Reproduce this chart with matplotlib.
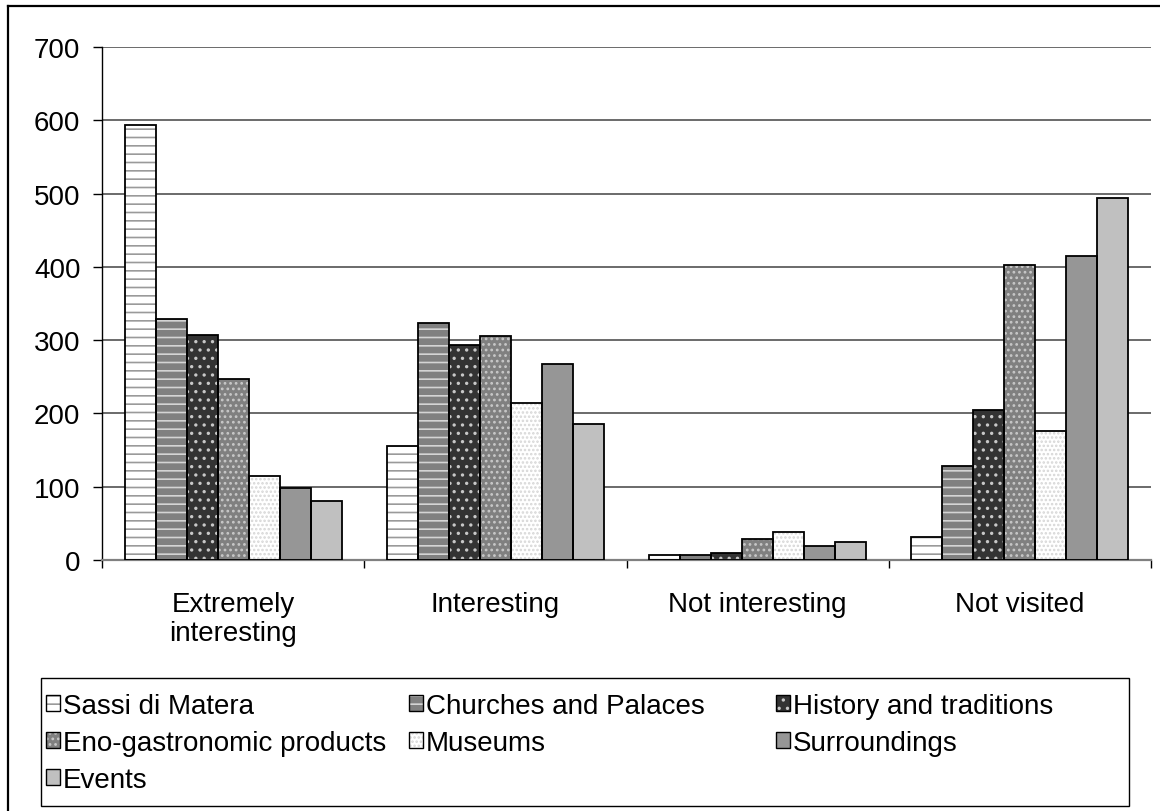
import numpy as np
import matplotlib.pyplot as plt
from matplotlib.patches import Patch, Rectangle
from matplotlib.lines import Line2D
from matplotlib.legend_handler import HandlerTuple

plt.rcParams['font.family'] = ['Liberation Sans', 'DejaVu Sans']
plt.rcParams['hatch.linewidth'] = 1.2

categories = ["Extremely\ninteresting", "Interesting", "Not interesting", "Not visited"]
series_names = ["Sassi di Matera", "Churches and Palaces", "History and traditions",
                "Eno-gastronomic products", "Museums", "Surroundings", "Events"]

sassi = [593, 156, 7, 32]
churches = [329, 324, 7, 128]
history = [307, 293, 10, 205]
eno = [247, 305, 28, 403]
museums = [115, 214, 38, 176]
surroundings = [98, 267, 19, 415]
events = [81, 185, 24, 494]
values = [sassi, churches, history, eno, museums, surroundings, events]

# face colour, hatch colour, hatch
styles = [("white", "#9a9a9a", "--"),
          ("#808080", "#d4d4d4", "--"),
          ("#333333", "#c8c8c8", ".."),
          ("#808080", "#c8c8c8", "..."),
          ("white", "#d6d6d6", "...."),
          ("#969696", "#969696", ""),
          ("#c0c0c0", "#c0c0c0", "")]

fig = plt.figure(figsize=(11.6, 8.12), dpi=100)
ax = fig.add_axes([102/1160, 1-561/812, (1151-102)/1160, (561-48)/812])

x = np.arange(len(categories))
w = 0.1183
handles = []
for i, (vals, (fc, hc, h)) in enumerate(zip(values, styles)):
    pos = x + (i - 3) * w
    ax.bar(pos, vals, w, color=fc, edgecolor=hc, hatch=h, linewidth=0, zorder=2)
    ax.bar(pos, vals, w, fill=False, edgecolor="black", linewidth=1.3, zorder=3)
    handles.append((Patch(facecolor=fc, edgecolor=hc, hatch=h, linewidth=0),
                    Patch(facecolor="none", edgecolor="black", linewidth=1.0)))

ax.set_xlim(-0.5, 3.5)
ax.set_ylim(0, 700)
ax.set_yticks(range(0, 701, 100))
ax.yaxis.grid(True, color="#6a6a6a", linewidth=1.4, zorder=0)
ax.set_axisbelow(True)

ax.set_xticks(x)
ax.set_xticklabels(categories, fontsize=20, linespacing=1.15)
ax.set_xticks(np.arange(-0.5, 4, 1), minor=True)
ax.tick_params(axis="x", which="major", length=0, pad=22.5)
ax.tick_params(axis="x", which="minor", length=6, width=1, color="black")
ax.tick_params(axis="y", length=6.5, width=1, labelsize=20, pad=9)

for s in ["top", "right"]:
    ax.spines[s].set_visible(False)
ax.spines["left"].set_color("black")
ax.spines["left"].set_linewidth(1)
ax.spines["bottom"].set_color("#808080")
ax.spines["bottom"].set_linewidth(1.6)

# legend: one column per legend so the columns sit where the reference has them
columns = [[0, 3, 6], [1, 4], [2, 5]]
col_x = [46, 409, 776]
for idx, cx in zip(columns, col_x):
    leg = fig.legend([handles[k] for k in idx], [series_names[k] for k in idx],
                     handler_map={tuple: HandlerTuple(ndivide=1, pad=0)},
                     loc="upper left", bbox_to_anchor=(cx/1160, 1-694/812),
                     bbox_transform=fig.transFigure, borderaxespad=0, borderpad=0,
                     fontsize=20, frameon=False,
                     handlelength=0.5, handleheight=0.5, handletextpad=0.1,
                     labelspacing=0.39)
fig.add_artist(Rectangle((41/1160, 1-807/812), (1129-41)/1160, 128/812,
                         fill=False, edgecolor="black", linewidth=1,
                         transform=fig.transFigure))

# outer chart border (cut off at right and bottom)
fig.add_artist(Line2D([8/1160, 8/1160], [0, 1-7/812], color="black", linewidth=1.6,
                      transform=fig.transFigure))
fig.add_artist(Line2D([8/1160, 1], [1-7/812, 1-7/812], color="black", linewidth=1.6,
                      transform=fig.transFigure))

fig.savefig("out.png", dpi=100)
